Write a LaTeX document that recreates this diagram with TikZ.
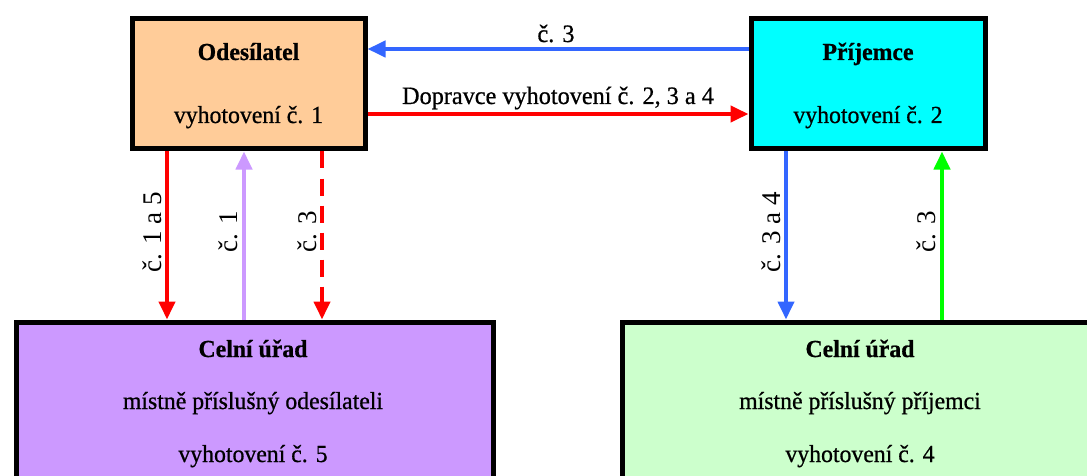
\documentclass[tikz,border=0pt]{standalone}
\usepackage{fontspec}
\newfontfamily\tms{Liberation Serif}
\newfontfamily\tmsh{Liberation Serif}[FakeBold=0.7, FakeStretch=0.97]
\usetikzlibrary{arrows.meta}
\definecolor{peach}{HTML}{FFCC99}
\definecolor{cyanbox}{HTML}{00FFFF}
\definecolor{lilac}{HTML}{CC99FF}
\definecolor{mint}{HTML}{CCFFCC}
\definecolor{arblue}{HTML}{3366FF}
\definecolor{arred}{HTML}{FF0000}
\definecolor{argreen}{HTML}{00FF00}
\tikzset{
  box/.style={draw=black, line width=5pt, inner sep=0pt, anchor=north west},
  boxtext/.style={anchor=base, inner sep=0pt, font=\tmsh\fontsize{24.5}{29}\selectfont},
  boldtext/.style={anchor=base, inner sep=0pt, font=\tmsh\fontsize{24.5}{29}\selectfont\bfseries},
  conn/.style={line width=4pt, -{Triangle[width=16pt,length=18pt]}},
  vlabel/.style={rotate=90, inner sep=0pt, font=\tms\fontsize{27}{32}\selectfont},
  hlabel/.style={anchor=base, inner sep=0pt, font=\tmsh\fontsize{25}{30}\selectfont}
}
\begin{document}
\begin{tikzpicture}[x=1pt,y=-1pt]
\useasboundingbox (0,0) rectangle (1087,476);
\clip (0,0) rectangle (1087,476);
\fill[white] (0,0) rectangle (1087,476);
% boxes
\node[box, fill=peach, minimum width=233pt, minimum height=130pt] (odes) at (129.5,16.5) {};
\node[box, fill=cyanbox, minimum width=234pt, minimum height=130pt] (prij) at (748.5,16.5) {};
\node[box, fill=lilac, minimum width=477pt, minimum height=200pt] (celnl) at (13.5,319.5) {};
\node[box, fill=mint, minimum width=484pt, minimum height=200pt] (celnr) at (619.5,319.5) {};
% box texts
\node[boldtext] (odesT) at (odes.center |- 0,60) {Odesílatel};
\node[boxtext] (odesV) at (odes.center |- 0,123) {vyhotovení č. 1};
\node[boldtext] (prijT) at (prij.center |- 0,60) {Příjemce};
\node[boxtext] (prijV) at (prij.center |- 0,123) {vyhotovení č. 2};
\node[boldtext] (celnlT) at (253,357) {Celní úřad};
\node[boxtext] (celnlM) at (253,409) {místně příslušný odesílateli};
\node[boxtext] (celnlV) at (253,462) {vyhotovení č. 5};
\node[boldtext] (celnrT) at (860,357) {Celní úřad};
\node[boxtext] (celnrM) at (860,409) {místně příslušný příjemci};
\node[boxtext] (celnrV) at (860,462) {vyhotovení č. 4};
% horizontal connectors
\draw[conn, arblue] (prij.west |- 0,49) -- (odes.east |- 0,49);
\draw[conn, arred] (odes.east |- 0,114) -- (prij.west |- 0,114);
\node[hlabel] (l3top) at (556,42) {č. 3};
\node[hlabel] (ldopr) at (558,104) {Dopravce vyhotovení č. 2, 3 a 4};
% vertical connectors left
\draw[conn, arred] (167,0 |- odes.south) -- (167,0 |- celnl.north);
\draw[conn, lilac] (244,0 |- celnl.north) -- (244,0 |- odes.south);
\draw[conn, arred, dash pattern=on 17pt off 10pt] (322,0 |- odes.south) -- (322,0 |- celnl.north);
\node[vlabel] (l15) at (152,232) {č. 1 a 5};
\node[vlabel] (l1) at (228,232) {č. 1};
\node[vlabel] (l3l) at (307,232) {č. 3};
% vertical connectors right
\draw[conn, arblue] (786,0 |- prij.south) -- (786,0 |- celnr.north);
\draw[conn, argreen] (942,0 |- celnr.north) -- (942,0 |- prij.south);
\node[vlabel] (l34) at (771,232) {č. 3 a 4};
\node[vlabel] (l3r) at (926,232) {č. 3};
\end{tikzpicture}
\end{document}
